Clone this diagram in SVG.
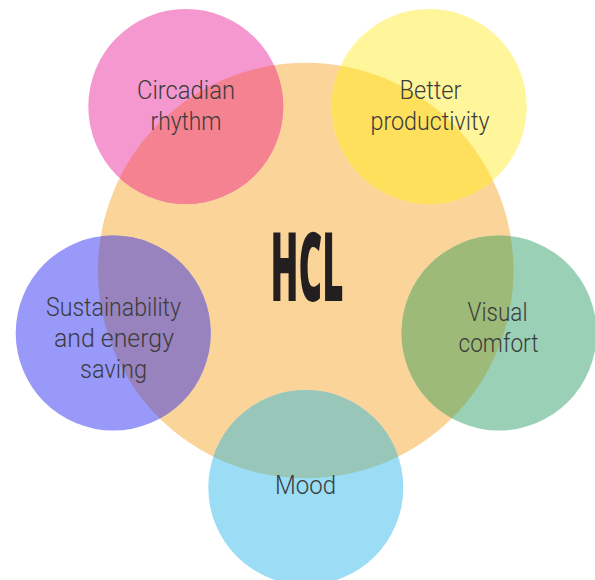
<svg xmlns="http://www.w3.org/2000/svg" width="595" height="580" viewBox="0 0 595 580">
<style>
.lbl{font-family:Roboto,"Liberation Sans",sans-serif;font-weight:300;font-size:25px;fill:#3c3c3c;text-anchor:middle}
.hcl{font-family:"Noto Sans","Liberation Sans",sans-serif;font-weight:900;font-stretch:extra-condensed;font-size:95px;fill:#231f20;text-anchor:middle}
</style>
<defs>
<clipPath id="clipHcl"><circle cx="305.7" cy="270.5" r="207.8"/></clipPath>
</defs>
<rect width="595" height="580" fill="#ffffff"/>
<g id="node-hcl">
<circle cx="305.7" cy="270.5" r="207.8" fill="#fbd49a"/>
<text class="hcl" x="307" y="300.7" textLength="73" lengthAdjust="spacingAndGlyphs">HCL</text>
</g>
<g id="node-circadian">
<circle cx="185.8" cy="106.5" r="97.5" fill="#f598cf"/>
<circle cx="185.8" cy="106.5" r="97.5" fill="#f48290" clip-path="url(#clipHcl)"/>
<text class="lbl" x="186" y="99" textLength="98" lengthAdjust="spacingAndGlyphs">Circadian</text>
<text class="lbl" x="186" y="130" textLength="71" lengthAdjust="spacingAndGlyphs">rhythm</text>
</g>
<g id="node-productivity">
<circle cx="429.2" cy="106.5" r="97.5" fill="#fff59a"/>
<circle cx="429.2" cy="106.5" r="97.5" fill="#ffe05c" clip-path="url(#clipHcl)"/>
<text class="lbl" x="430.5" y="98.5" textLength="62" lengthAdjust="spacingAndGlyphs">Better</text>
<text class="lbl" x="430" y="130" textLength="119" lengthAdjust="spacingAndGlyphs">productivity</text>
</g>
<g id="node-sustainability">
<circle cx="113.2" cy="333" r="97.5" fill="#9999fa"/>
<circle cx="113.2" cy="333" r="97.5" fill="#9883be" clip-path="url(#clipHcl)"/>
<text class="lbl" x="113.5" y="315.7" textLength="135" lengthAdjust="spacingAndGlyphs">Sustainability</text>
<text class="lbl" x="114" y="346.7" textLength="120" lengthAdjust="spacingAndGlyphs">and energy</text>
<text class="lbl" x="113.5" y="378.3" textLength="67" lengthAdjust="spacingAndGlyphs">saving</text>
</g>
<g id="node-visual">
<circle cx="499" cy="333" r="97.5" fill="#99d0b6"/>
<circle cx="499" cy="333" r="97.5" fill="#9dba78" clip-path="url(#clipHcl)"/>
<text class="lbl" x="497.5" y="320.7" textLength="60" lengthAdjust="spacingAndGlyphs">Visual</text>
<text class="lbl" x="498.5" y="352.3" textLength="80" lengthAdjust="spacingAndGlyphs">comfort</text>
</g>
<g id="node-mood">
<circle cx="305.8" cy="487.5" r="97.5" fill="#9addf5"/>
<circle cx="305.8" cy="487.5" r="97.5" fill="#98c6b9" clip-path="url(#clipHcl)"/>
<text class="lbl" x="305.5" y="494.3" textLength="61" lengthAdjust="spacingAndGlyphs">Mood</text>
</g>
<g id="connectors"/>
</svg>
